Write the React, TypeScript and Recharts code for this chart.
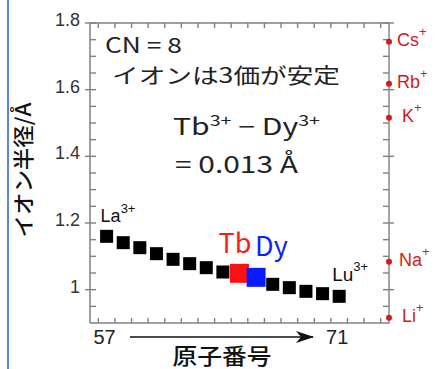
import { Scatter, ScatterChart, XAxis, YAxis } from 'recharts'

const atomicNumbers = [57, 58, 59, 60, 61, 62, 63, 64, 65, 66, 67, 68, 69, 70, 71]
const lnNames = ['La', 'Ce', 'Pr', 'Nd', 'Pm', 'Sm', 'Eu', 'Gd', 'Tb', 'Dy', 'Ho', 'Er', 'Tm', 'Yb', 'Lu']
const lnRadii = [1.16, 1.141, 1.126, 1.108, 1.091, 1.078, 1.066, 1.053, 1.049, 1.037, 1.016, 1.006, 0.995, 0.988, 0.98]

const alkaliNames = ['Cs', 'Rb', 'K', 'Na', 'Li']
const alkaliRadii = [1.744, 1.618, 1.516, 1.084, 0.916]

const X_MIN = 56
const X_MAX = 74
const Y_MIN = 0.9
const Y_MAX = 1.8

const xMinorTicks = [56.5, 57.5, 58.5, 59.5, 60.5, 61.5, 62.5, 63.5, 64.5, 65.5, 66.5, 67.5, 68.5, 69.5, 70.5, 71.5, 72.5, 73.5]
const xLabelTicks = [57, 71]
const yTicks = [0.95, 1, 1.05, 1.1, 1.15, 1.2, 1.25, 1.3, 1.35, 1.4, 1.45, 1.5, 1.55, 1.6, 1.65, 1.7, 1.75, 1.8]
const yLabelTicks = [1, 1.2, 1.4, 1.6, 1.8]

const lnData = atomicNumbers.map((z, i) => ({ z, r: lnRadii[i], name: lnNames[i] }))
// alkali ions sit on the right frame
const alkaliData = alkaliNames.map((name, i) => ({ z: X_MAX, r: alkaliRadii[i], name }))

// inward tick marks, placed through the chart scales
const leftTickData = yTicks.map((r) => ({ z: X_MIN, r }))
const rightTickData = yTicks.map((r) => ({ z: X_MAX, r }))
const bottomTickData = xMinorTicks.map((z) => ({ z, r: Y_MIN }))
const topTickData = xMinorTicks.map((z) => ({ z, r: Y_MAX }))

const W = 437
const H = 369
const LEFT = 90
const RIGHT = 389
const TOP = 23
const BOTTOM = 323
const AXIS = '#808080'
const RED = '#d01c1c'
const JP = '"Noto Sans CJK JP", "Noto Sans", sans-serif'
const NUM = '"Liberation Sans", Arial, sans-serif'

const YW_L = 60
const XH_B = 30

const isMajor = (v: number) => Math.abs(v * 5 - Math.round(v * 5)) < 1e-6

// ticks drawn as thin filled rects
function HBar({ x1, x2, y }: { x1: number; x2: number; y: number }) {
  return <rect x={Math.min(x1, x2)} y={y - 0.7} width={Math.abs(x2 - x1)} height={1.4} fill={AXIS} />
}
function VBar({ x, y1, y2 }: { x: number; y1: number; y2: number }) {
  return <rect x={x - 0.7} y={Math.min(y1, y2)} width={1.4} height={Math.abs(y2 - y1)} fill={AXIS} />
}

function LeftMark(p: any) {
  const { cx, cy, payload } = p
  return <HBar x1={isMajor(payload.r) ? cx - 5 : cx} x2={cx + 6} y={cy} />
}

function RightMark(p: any) {
  const { cx, cy, payload } = p
  return (
    <g>
      <HBar x1={cx - 6} x2={isMajor(payload.r) ? cx + 5 : cx} y={cy} />
      {payload.r === Y_MAX && <VBar x={cx} y1={cy - 0.7} y2={BOTTOM + 0.7} />}
    </g>
  )
}

function BottomMark(p: any) {
  const { cx, cy } = p
  return <VBar x={cx} y1={cy} y2={cy - 5} />
}

function TopMark(p: any) {
  const { cx, cy } = p
  return <VBar x={cx} y1={cy} y2={cy + 5} />
}

function LeftLabel(p: any) {
  const v = p.payload.value
  if (!yLabelTicks.includes(v)) return <g />
  return (
    <text x={80} y={p.y + 3} textAnchor="end" fontFamily={NUM} fontSize={18} fill="#333">
      {v === 1 ? '1' : v.toFixed(1)}
    </text>
  )
}

function BottomLabel(p: any) {
  return (
    <text x={p.x - 2} y={344} textAnchor="middle" fontFamily={NUM} fontSize={20} fill="#222">
      {p.payload.value}
    </text>
  )
}

function LnSquare(p: any) {
  const { cx, cy, payload } = p
  const name = payload.name
  const color = name === 'Tb' ? '#ff1010' : name === 'Dy' ? '#0a1cff' : '#000'
  const s = name === 'Tb' || name === 'Dy' ? 19 : 13
  return (
    <g>
      <rect x={cx - s / 2} y={cy - s / 2} width={s} height={s} fill={color} />
      {name === 'La' && (
        <text x={cx - 6} y={cy - 14} fontFamily={NUM} fontSize={18} fill="#111">
          La<tspan dy={-9} fontSize={13}>3+</tspan>
        </text>
      )}
      {name === 'Lu' && (
        <text x={cx - 7} y={cy - 15} fontFamily={NUM} fontSize={19} fill="#111">
          Lu<tspan dy={-10} fontSize={13}>3+</tspan>
        </text>
      )}
      {name === 'Tb' && (
        <text x={cx - 21} y={cy - 20} fontFamily={JP} fontSize={27} fill="#ff1a1a">
          Tb
        </text>
      )}
      {name === 'Dy' && (
        <text x={cx - 1} y={cy - 21} fontFamily={JP} fontSize={27} fill="#1020ff">
          Dy
        </text>
      )}
    </g>
  )
}

const alkaliDx: Record<string, number> = { Cs: 8, Rb: 8, K: 13, Na: 10, Li: 13 }

function AlkaliDot(p: any) {
  const { cx, cy, payload } = p
  return (
    <g>
      <circle cx={cx} cy={cy} r={3} fill={RED} />
      <text x={cx + (alkaliDx[payload.name] ?? 9)} y={cy + 4} fontFamily={NUM} fontSize={18} fill={RED}>
        {payload.name}
        <tspan dy={-10} fontSize={13}>+</tspan>
      </text>
    </g>
  )
}

const axisStyle = { stroke: AXIS, strokeWidth: 1.5 }

export default function App() {
  return (
    <div style={{ position: 'absolute', left: 0, top: 0, width: W, height: H, background: '#fff', overflow: 'hidden' }}>
      <div style={{ position: 'absolute', left: 7, top: 0, width: 2, height: H, background: '#5a86d8' }} />
      <ScatterChart width={W} height={H} margin={{ top: TOP, right: W - RIGHT, bottom: H - BOTTOM - XH_B, left: LEFT - YW_L }}>
        <XAxis
          type="number"
          dataKey="z"
          domain={[X_MIN, X_MAX]}
          ticks={xLabelTicks}
          interval={0}
          height={XH_B}
          tickLine={false}
          axisLine={axisStyle}
          tick={(p: any) => <BottomLabel {...p} />}
        />
        <YAxis
          type="number"
          dataKey="r"
          domain={[Y_MIN, Y_MAX]}
          ticks={yTicks}
          interval={0}
          width={YW_L}
          tickLine={false}
          axisLine={axisStyle}
          tick={(p: any) => <LeftLabel {...p} />}
        />
        <Scatter data={leftTickData} shape={(p: any) => <LeftMark {...p} />} isAnimationActive={false} />
        <Scatter data={rightTickData} shape={(p: any) => <RightMark {...p} />} isAnimationActive={false} />
        <Scatter data={bottomTickData} shape={(p: any) => <BottomMark {...p} />} isAnimationActive={false} />
        <Scatter data={topTickData} shape={(p: any) => <TopMark {...p} />} isAnimationActive={false} />
        <Scatter data={lnData} shape={(p: any) => <LnSquare {...p} />} isAnimationActive={false} />
        <Scatter data={alkaliData} shape={(p: any) => <AlkaliDot {...p} />} isAnimationActive={false} />
      </ScatterChart>
      <svg width={W} height={H} style={{ position: 'absolute', left: 0, top: 0, pointerEvents: 'none' }}>
        <defs>
          <marker id="head" markerWidth="18" markerHeight="12" refX="17" refY="6" orient="auto" markerUnits="userSpaceOnUse">
            <path d="M0,0 L18,6 L0,12 L5,6 Z" fill="#111" />
          </marker>
        </defs>
        <line x1={LEFT} y1={TOP} x2={RIGHT} y2={TOP} stroke={AXIS} strokeWidth={1.5} />
        <text x={105} y={53} fontFamily={JP} fontSize={21} fill="#222" textLength={77} lengthAdjust="spacingAndGlyphs">
          CN = 8
        </text>
        <text x={112} y={83} fontFamily={JP} fontSize={21} fill="#222" textLength={228} lengthAdjust="spacingAndGlyphs">
          イオンは3価が安定
        </text>
        <text x={173} y={135} fontFamily={JP} fontSize={23} fill="#222" textLength={147} lengthAdjust="spacingAndGlyphs">
          Tb<tspan dy={-9} fontSize={15}>3+</tspan>
          <tspan dy={9}> − Dy</tspan>
          <tspan dy={-9} fontSize={15}>3+</tspan>
        </text>
        <text x={175} y={173} fontFamily={JP} fontSize={23} fill="#222" textLength={123} lengthAdjust="spacingAndGlyphs">
          = 0.013 Å
        </text>
        <text
          transform="translate(31,170) rotate(-90)"
          textAnchor="middle"
          fontFamily={JP}
          fontSize={21}
          fontWeight={500}
          fill="#111"
          textLength={135}
          lengthAdjust="spacingAndGlyphs"
        >
          イオン半径/Å
        </text>
        <line x1={130} y1={337} x2={313} y2={337} stroke="#111" strokeWidth={1.5} markerEnd="url(#head)" />
        <text x={222} y={364} textAnchor="middle" fontFamily={JP} fontSize={22} fontWeight={500} fill="#111" textLength={99} lengthAdjust="spacingAndGlyphs">
          原子番号
        </text>
      </svg>
    </div>
  )
}
